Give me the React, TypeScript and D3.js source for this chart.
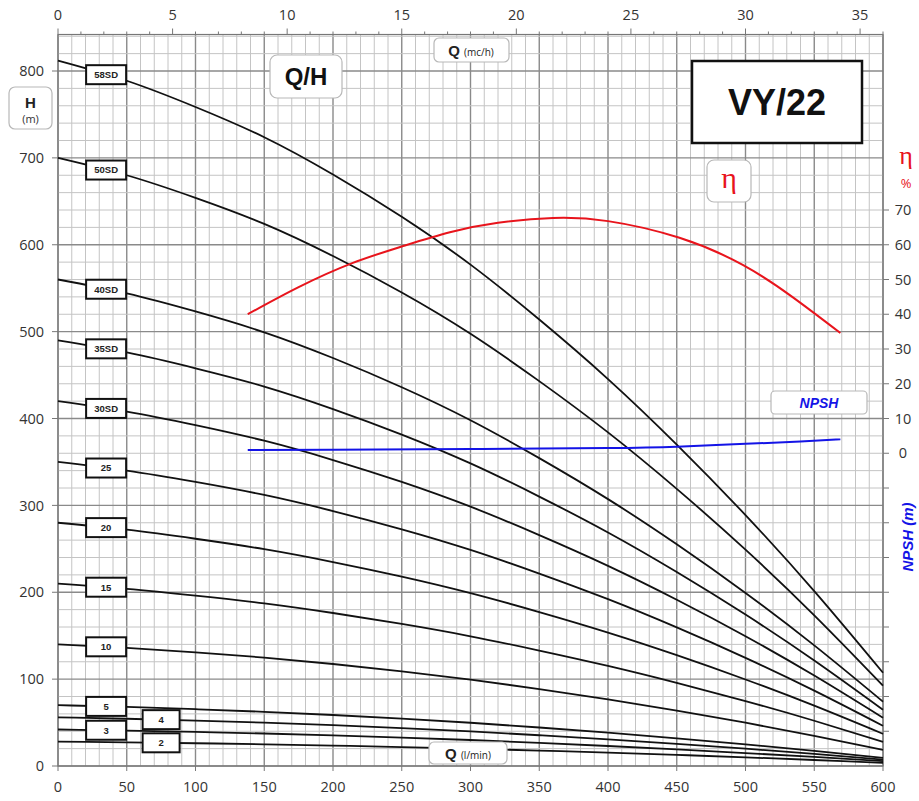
import React, { useRef, useEffect } from "react";
import * as d3 from "d3";

const width = 919;
const height = 801;

// flow points (l/min) where the Q/H curves were read
const flowLmin = [0, 50, 100, 150, 200, 250, 300, 350, 400, 450, 500, 550, 600];

const models = ["2", "3", "4", "5", "10", "15", "20", "25", "30SD", "35SD", "40SD", "50SD", "58SD"];

// head (m) for each model at flowLmin
const head2 = [28, 27.2, 26.2, 25.0, 23.5, 21.8, 19.9, 17.7, 15.4, 12.8, 10.0, 6.9, 3.7];
const head3 = [42, 40.8, 39.2, 37.4, 35.2, 32.7, 29.9, 26.6, 23.0, 19.1, 14.9, 10.4, 5.6];
const head4 = [56, 54.4, 52.3, 49.9, 47.0, 43.6, 39.8, 35.4, 30.7, 25.5, 19.9, 13.9, 7.4];
const head5 = [70, 68, 65.4, 62.4, 58.7, 54.5, 49.8, 44.3, 38.4, 31.9, 24.9, 17.4, 9.3];
const head10 = [140, 136, 130.8, 124.8, 117.4, 109, 99.5, 88.6, 76.8, 63.8, 49.8, 34.7, 18.5];
const head15 = [210, 204, 196.2, 187.2, 176.1, 163.5, 149.3, 132.9, 115.2, 95.7, 74.7, 52.1, 27.8];
const head20 = [280, 272, 261.6, 249.6, 234.8, 218, 199, 177.2, 153.6, 127.6, 99.6, 69.4, 37];
const head25 = [350, 340, 327, 312, 293.5, 272.5, 248.8, 221.5, 192, 159.5, 124.5, 86.8, 46.3];
const head30 = [420, 408, 392.4, 374.4, 352.2, 327, 298.5, 265.8, 230.4, 191.4, 149.4, 104.1, 55.5];
const head35 = [490, 476, 457.8, 436.8, 410.9, 381.5, 348.3, 310.1, 268.8, 223.3, 174.3, 121.5, 64.8];
const head40 = [560, 544, 523.2, 499.2, 469.6, 436, 398, 354.4, 307.2, 255.2, 199.2, 138.8, 74];
const head50 = [700, 680, 654, 624, 587, 545, 497.5, 443, 384, 319, 249, 173.5, 92.5];
const head58 = [812, 788.8, 758.6, 723.8, 680.9, 632.2, 577.1, 513.9, 445.4, 370, 288.8, 201.3, 107.3];

const heads = [head2, head3, head4, head5, head10, head15, head20, head25, head30, head35, head40, head50, head58];

// efficiency curve
const etaFlow = [138, 175, 214, 250, 285, 320, 360, 400, 452, 498, 534, 569];
const etaPct = [40, 47.8, 54.7, 59.5, 63.6, 66.3, 67.7, 66.8, 62, 54.2, 45, 34.6];

// NPSH curve
const npshFlow = [138, 200, 300, 400, 450, 500, 540, 569];
const npshM = [0.9, 1.0, 1.2, 1.5, 1.9, 2.7, 3.4, 4.0];

const hTicks = [0, 100, 200, 300, 400, 500, 600, 700, 800];
const qTicks = [0, 50, 100, 150, 200, 250, 300, 350, 400, 450, 500, 550, 600];
const m3Ticks = [0, 5, 10, 15, 20, 25, 30, 35];
const etaTicks = [0, 10, 20, 30, 40, 50, 60, 70];

const numFont = "'Open Sans', sans-serif";
const boldFont = "Arial, 'Liberation Sans', sans-serif";

const headAt = (arr: number[], q: number) => {
  const i = Math.max(0, d3.bisectRight(flowLmin, q) - 1);
  const t = (q - flowLmin[i]) / (flowLmin[i + 1] - flowLmin[i]);
  return arr[i] + t * (arr[i + 1] - arr[i]);
};

const App = () => {
  const ref = useRef<SVGSVGElement>(null);

  useEffect(() => {
    const svg = d3.select(ref.current);
    svg.selectAll("*").remove();

    const x = d3.scaleLinear().domain([0, 600]).range([58, 883]);
    const xm3 = d3.scaleLinear().domain([0, 36]).range([58, 883]);
    const y = d3.scaleLinear().domain([0, 800]).range([766, 71]);
    const yEta = d3.scaleLinear().domain([0, 70]).range([y(360), y(640)]);
    const hMax = 842;

    svg.append("rect").attr("width", width).attr("height", height).attr("fill", "#fff");

    const g = svg.append("g");

    // grid
    d3.range(0, 601, 10).forEach((q) => {
      const major = q % 50 === 0;
      g.append("line")
        .attr("x1", x(q)).attr("x2", x(q))
        .attr("y1", y(hMax)).attr("y2", y(0))
        .attr("stroke", major ? "#8a8a8a" : "#c4c4c4")
        .attr("stroke-width", major ? 1.4 : 1);
    });
    d3.range(0, hMax, 20).forEach((h) => {
      const major = h % 100 === 0;
      g.append("line")
        .attr("x1", x(0)).attr("x2", x(600))
        .attr("y1", y(h)).attr("y2", y(h))
        .attr("stroke", major ? "#8a8a8a" : "#c4c4c4")
        .attr("stroke-width", major ? 1.4 : 1);
    });
    g.append("rect")
      .attr("x", x(0)).attr("y", y(hMax))
      .attr("width", x(600) - x(0)).attr("height", y(0) - y(hMax))
      .attr("fill", "none").attr("stroke", "#777").attr("stroke-width", 1.2);

    // left axis
    hTicks.forEach((h) => {
      g.append("line").attr("x1", 52).attr("x2", 58).attr("y1", y(h)).attr("y2", y(h)).attr("stroke", "#777");
      g.append("text").attr("x", 44).attr("y", y(h)).attr("dy", "0.36em")
        .attr("text-anchor", "end").attr("font-family", numFont).attr("font-size", 14.5)
        .attr("fill", "#333").text(h);
    });

    // bottom axis
    qTicks.forEach((q) => {
      g.append("line").attr("x1", x(q)).attr("x2", x(q)).attr("y1", 766).attr("y2", 771).attr("stroke", "#777");
      g.append("text").attr("x", x(q)).attr("y", 792)
        .attr("text-anchor", "middle").attr("font-family", numFont).attr("font-size", 14.5)
        .attr("fill", "#333").text(q);
    });

    // top axis (m3/h)
    d3.range(0, 37, 1).forEach((v) => {
      const major = v % 5 === 0;
      g.append("line").attr("x1", xm3(v)).attr("x2", xm3(v))
        .attr("y1", y(hMax)).attr("y2", y(hMax) - (major ? 6 : 3)).attr("stroke", "#777");
    });
    m3Ticks.forEach((v) => {
      g.append("text").attr("x", xm3(v)).attr("y", 20)
        .attr("text-anchor", "middle").attr("font-family", numFont).attr("font-size", 14.5)
        .attr("fill", "#333").text(v);
    });

    // right axis (eta / NPSH)
    d3.range(-80, 71, 10).forEach((v) => {
      g.append("line").attr("x1", 883).attr("x2", 889).attr("y1", yEta(v)).attr("y2", yEta(v)).attr("stroke", "#777");
    });
    etaTicks.forEach((v) => {
      g.append("text").attr("x", 903).attr("y", yEta(v)).attr("dy", "0.36em")
        .attr("text-anchor", "middle").attr("font-family", numFont).attr("font-size", 14.5)
        .attr("fill", "#333").text(v);
    });

    // Q/H curves
    const line = d3.line<[number, number]>()
      .x((d) => x(d[0]))
      .y((d) => y(d[1]))
      .curve(d3.curveNatural);
    heads.forEach((arr) => {
      g.append("path")
        .attr("d", line(flowLmin.map((q, i) => [q, arr[i]])))
        .attr("fill", "none").attr("stroke", "#111").attr("stroke-width", 1.8);
    });

    // efficiency
    g.append("path")
      .attr("d", d3.line<[number, number]>()
        .x((d) => x(d[0])).y((d) => yEta(d[1]))
        .curve(d3.curveNatural)(etaFlow.map((q, i) => [q, etaPct[i]])))
      .attr("fill", "none").attr("stroke", "#e8141c").attr("stroke-width", 2);

    // NPSH
    g.append("path")
      .attr("d", d3.line<[number, number]>()
        .x((d) => x(d[0])).y((d) => yEta(d[1]))
        .curve(d3.curveNatural)(npshFlow.map((q, i) => [q, npshM[i]])))
      .attr("fill", "none").attr("stroke", "#1414e6").attr("stroke-width", 2);

    // curve labels
    models.forEach((m, i) => {
      const q = m === "4" || m === "2" ? 75 : 35;
      const cx = x(q);
      const cy = y(headAt(heads[i], q));
      const w = m === "4" || m === "2" ? 37 : 40;
      g.append("rect").attr("x", cx - w / 2).attr("y", cy - 9.5).attr("width", w).attr("height", 19)
        .attr("fill", "#fff").attr("stroke", "#111").attr("stroke-width", 2);
      g.append("text").attr("x", cx).attr("y", cy).attr("dy", "0.36em")
        .attr("text-anchor", "middle").attr("font-family", boldFont).attr("font-weight", "bold")
        .attr("font-size", 9.5).attr("fill", "#222").text(m);
    });

    // label boxes
    const softBox = (bx: number, by: number, bw: number, bh: number, r: number) =>
      g.append("rect").attr("x", bx).attr("y", by).attr("width", bw).attr("height", bh)
        .attr("rx", r).attr("fill", "#fff").attr("stroke", "#b8b8b8").attr("stroke-width", 1.2);

    softBox(9, 87, 43, 42, 6);
    g.append("text").attr("x", 30.5).attr("y", 108).attr("text-anchor", "middle")
      .attr("font-family", boldFont).attr("font-weight", "bold").attr("font-size", 15).attr("fill", "#222").text("H");
    g.append("text").attr("x", 30.5).attr("y", 123).attr("text-anchor", "middle")
      .attr("font-family", numFont).attr("font-size", 11).attr("fill", "#333").text("(m)");

    softBox(270, 55, 72, 43, 7);
    g.append("text").attr("x", 306).attr("y", 85).attr("text-anchor", "middle")
      .attr("font-family", boldFont).attr("font-weight", "bold").attr("font-size", 24).attr("fill", "#111").text("Q/H");

    softBox(434, 38, 75, 24, 5);
    const tq = g.append("text").attr("x", 471).attr("y", 56).attr("text-anchor", "middle").attr("fill", "#222");
    tq.append("tspan").attr("font-family", boldFont).attr("font-weight", "bold").attr("font-size", 15).text("Q ");
    tq.append("tspan").attr("font-family", numFont).attr("font-size", 10).text("(mc/h)");

    softBox(429, 742, 78, 22, 5);
    const tl = g.append("text").attr("x", 468).attr("y", 759).attr("text-anchor", "middle").attr("fill", "#222");
    tl.append("tspan").attr("font-family", boldFont).attr("font-weight", "bold").attr("font-size", 15).text("Q ");
    tl.append("tspan").attr("font-family", numFont).attr("font-size", 10).text("(l/min)");

    softBox(707, 160, 44, 42, 7);
    g.append("text").attr("x", 729).attr("y", 188).attr("text-anchor", "middle")
      .attr("font-family", "'Liberation Serif', serif").attr("font-size", 30).attr("fill", "#e8141c").text("η");

    softBox(771, 391, 96, 23, 4);
    g.append("text").attr("x", 819).attr("y", 408).attr("text-anchor", "middle")
      .attr("font-family", boldFont).attr("font-weight", "bold").attr("font-style", "italic")
      .attr("font-size", 14).attr("fill", "#1414e6").text("NPSH");

    // title box
    g.append("rect").attr("x", 692).attr("y", 61).attr("width", 170).attr("height", 82)
      .attr("fill", "#fff").attr("stroke", "#111").attr("stroke-width", 2.5);
    g.append("text").attr("x", 777).attr("y", 115).attr("text-anchor", "middle")
      .attr("font-family", boldFont).attr("font-weight", "bold").attr("font-size", 36).attr("fill", "#111").text("VY/22");

    // right axis titles
    g.append("text").attr("x", 906).attr("y", 164).attr("text-anchor", "middle")
      .attr("font-family", "'Liberation Serif', serif").attr("font-size", 26).attr("fill", "#e8141c").text("η");
    g.append("text").attr("x", 906).attr("y", 188).attr("text-anchor", "middle")
      .attr("font-family", numFont).attr("font-size", 13).attr("fill", "#e8141c").text("%");
    g.append("text").attr("transform", "translate(913,537) rotate(-90)").attr("text-anchor", "middle")
      .attr("font-family", boldFont).attr("font-weight", "bold").attr("font-style", "italic")
      .attr("font-size", 15).attr("fill", "#1414e6").text("NPSH (m)");
  }, []);

  return (
    <svg
      ref={ref}
      width={width}
      height={height}
      style={{ position: "absolute", left: 0, top: 0, display: "block" }}
    />
  );
};

export default App;
